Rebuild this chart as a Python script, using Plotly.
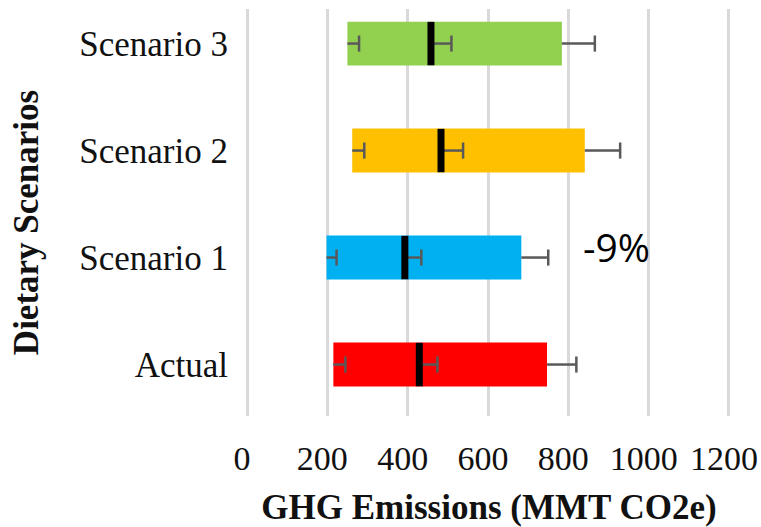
import plotly.graph_objects as go

categories = ["Actual", "Scenario 1", "Scenario 2", "Scenario 3"]
low = [215, 198, 262, 250]
median = [429, 393, 483, 458]
high = [747, 683, 841, 784]
err_low = [30, 25, 30, 29]
err_med = [45, 41, 55, 51]
err_high = [73, 67, 88, 82]
colors = ["#FF0000", "#00B0F0", "#FFC000", "#92D050"]
x_ticks = [0, 200, 400, 600, 800, 1000, 1200]
note_text = "-9%"
note_x = 921
note_y = 1.10

serif = "Liberation Serif"
ERR_COLOR = "#595959"

fig = go.Figure()

fig.add_trace(go.Bar(
    y=categories,
    x=[h - l for h, l in zip(high, low)],
    base=low,
    orientation="h",
    width=0.41,
    marker=dict(color=colors, line=dict(width=0)),
    hoverinfo="skip",
))

# error bar stems (one-sided, pointing right from each segment end)
sx, sy, cx, cy = [], [], [], []
for cat, l, m, h, el, em, eh in zip(categories, low, median, high, err_low, err_med, err_high):
    for start, e in ((l, el), (m, em), (h, eh)):
        sx += [start, start + e, None]
        sy += [cat, cat, None]
        cx.append(start + e)
        cy.append(cat)

fig.add_trace(go.Scatter(
    x=sx, y=sy, mode="lines",
    line=dict(color=ERR_COLOR, width=2.5),
    hoverinfo="skip",
))
fig.add_trace(go.Scatter(
    x=cx, y=cy, mode="markers",
    marker=dict(symbol="line-ns", size=11.5, line=dict(color=ERR_COLOR, width=2.5)),
    hoverinfo="skip",
))

# median markers
fig.add_trace(go.Scatter(
    x=median, y=categories, mode="markers",
    marker=dict(symbol="line-ns", size=31, line=dict(color="#000000", width=7)),
    hoverinfo="skip",
))

fig.add_annotation(
    x=note_x, y=note_y, xref="x", yref="y",
    text=note_text, showarrow=False,
    font=dict(family="Open Sans", size=39, color="#000000"),
)

# y-axis title
fig.add_annotation(
    x=-0.454, y=0.4745, xref="paper", yref="paper",
    xanchor="center", yanchor="middle",
    text="<b>Dietary Scenarios</b>", textangle=-90, showarrow=False,
    font=dict(family=serif, size=35, color="#111111"),
)

fig.update_layout(
    width=761, height=527,
    margin=dict(l=247, r=30, t=9, b=111),
    paper_bgcolor="white", plot_bgcolor="white",
    showlegend=False,
    xaxis=dict(
        range=[0, 1205],
        automargin=False,
        tickvals=x_ticks,
        ticktext=[str(v) for v in x_ticks],
        showgrid=True, gridcolor="#D9D9D9", gridwidth=3,
        zeroline=True, zerolinecolor="#D9D9D9", zerolinewidth=3,
        showline=False, ticks="",
        tickfont=dict(family=serif, size=34, color="#111111"),
        ticklabelstandoff=19,
        ticklabelshift=-5,
        title=dict(text="<b>GHG Emissions (MMT CO2e)</b>", standoff=26,
                   font=dict(family=serif, size=35, color="#111111")),
        fixedrange=True,
    ),
    yaxis=dict(
        type="category",
        automargin=False,
        categoryorder="array", categoryarray=categories,
        range=[-0.481, 3.323],
        showgrid=False, zeroline=False, showline=False, ticks="",
        tickfont=dict(family=serif, size=35, color="#111111"),
        ticklabelstandoff=18,
        fixedrange=True,
    ),
)

fig.write_html("out.html", config={"displayModeBar": False},
               post_script="document.body.style.margin='0';")
